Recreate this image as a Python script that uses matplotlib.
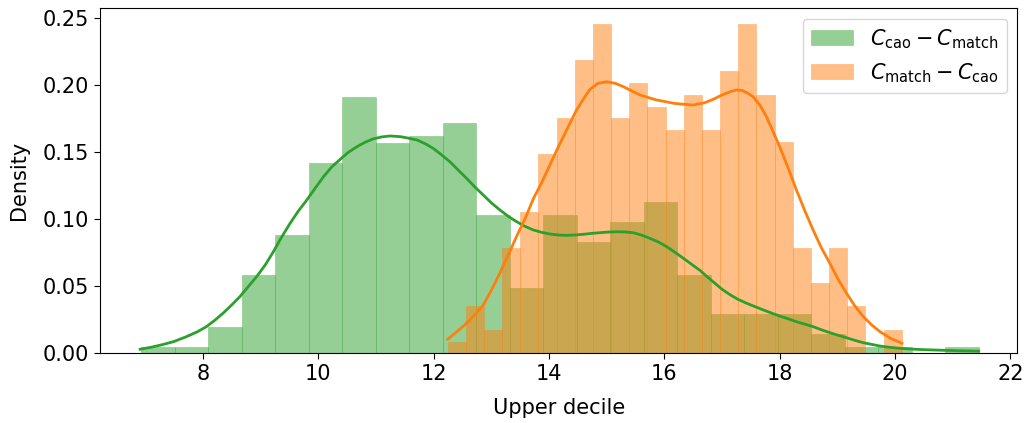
import numpy as np
import matplotlib
matplotlib.use("Agg")
import matplotlib.pyplot as plt

# ---- data ----
# Green: C_cao - C_match, 25 bins
green_start = 6.93
green_width = 0.581
green_density = [0.005, 0.005, 0.0199, 0.0584, 0.0883, 0.142, 0.191, 0.157, 0.162,
                 0.172, 0.103, 0.0488, 0.103, 0.0833, 0.098, 0.113, 0.0584, 0.029,
                 0.029, 0.029, 0.0144, 0.0045, 0.0045, 0.0, 0.0045]

# Orange: C_match - C_cao, 25 bins
orange_start = 12.243
orange_width = 0.3149
orange_density = [0.0085, 0.0356, 0.0174, 0.0784, 0.1055, 0.149, 0.1756, 0.219, 0.2458,
                  0.1756, 0.2017, 0.1838, 0.1667, 0.1928, 0.1667, 0.2107, 0.2458, 0.1928,
                  0.1577, 0.0784, 0.0525, 0.0784, 0.0355, 0.0, 0.0174]

# KDE curves
green_kde_x = [6.91, 7.1, 7.3, 7.49, 7.7, 7.9, 8.06, 8.2, 8.35, 8.5, 8.64, 8.78, 8.93,
               9.08, 9.22, 9.36, 9.51, 9.65, 9.80, 9.95, 10.09, 10.23, 10.38, 10.52,
               10.67, 10.81, 10.95, 11.1, 11.24, 11.42, 11.56, 11.71, 11.85, 11.99,
               12.14, 12.28, 12.42, 12.57, 12.71, 12.86, 13.0, 13.15, 13.3, 13.44,
               13.58, 13.73, 13.88, 14.02, 14.16, 14.31, 14.45, 14.59, 14.74, 14.88,
               15.03, 15.17, 15.31, 15.46, 15.6, 15.75, 15.9, 16.04, 16.18, 16.33,
               16.47, 16.62, 16.74, 16.87, 17.0, 17.14, 17.28, 17.43, 17.58, 17.72,
               17.86, 18.0, 18.15, 18.29, 18.44, 18.58, 18.72, 18.87, 19.01, 19.16,
               19.3, 19.45, 19.6, 19.74, 19.9, 20.09, 20.3, 20.5, 20.8, 21.1, 21.45]
green_kde_y = [0.0030, 0.0045, 0.0065, 0.0087, 0.0122, 0.0160, 0.0199, 0.0245, 0.0300,
               0.0362, 0.0423, 0.0495, 0.0572, 0.066, 0.0758, 0.0865, 0.097, 0.106,
               0.1144, 0.1235, 0.1318, 0.139, 0.1448, 0.150, 0.1542, 0.1575, 0.160,
               0.1615, 0.1622, 0.1617, 0.1606, 0.1592, 0.1565, 0.153, 0.148, 0.143,
               0.137, 0.1306, 0.1243, 0.1181, 0.1123, 0.1069, 0.102, 0.0982, 0.0948,
               0.092, 0.0902, 0.089, 0.0883, 0.088, 0.0883, 0.0888, 0.0895, 0.090,
               0.0905, 0.0907, 0.0906, 0.090, 0.0883, 0.0858, 0.083, 0.0796, 0.0755,
               0.0709, 0.0665, 0.0618, 0.0572, 0.0525, 0.0478, 0.0437, 0.0402, 0.0373,
               0.0347, 0.0323, 0.030, 0.0278, 0.0257, 0.0236, 0.0217, 0.0199, 0.0176,
               0.0154, 0.0135, 0.0116, 0.0097, 0.0079, 0.0066, 0.0054, 0.0045, 0.0037,
               0.0031, 0.0027, 0.0023, 0.0019, 0.0016]

orange_kde_x = [12.243, 12.4, 12.57, 12.72, 12.86, 13.0, 13.15, 13.3, 13.44, 13.58,
                13.73, 13.88, 14.02, 14.15, 14.31, 14.47, 14.6, 14.71, 14.85, 15.0,
                15.15, 15.29, 15.45, 15.58, 15.75, 15.87, 16.0, 16.16, 16.3, 16.5,
                16.7, 16.85, 17.0, 17.14, 17.25, 17.35, 17.45, 17.54, 17.66, 17.77,
                17.88, 18.0, 18.15, 18.29, 18.44, 18.58, 18.72, 18.87, 19.01, 19.16,
                19.3, 19.45, 19.6, 19.74, 19.93, 20.12]
orange_kde_y = [0.0105, 0.016, 0.0224, 0.029, 0.036, 0.047, 0.060, 0.074, 0.0875,
                0.100, 0.1155, 0.128, 0.141, 0.153, 0.167, 0.181, 0.190, 0.197, 0.2015,
                0.2027, 0.2015, 0.199, 0.1955, 0.1928, 0.1905, 0.189, 0.188, 0.1866,
                0.186, 0.1853, 0.187, 0.1896, 0.1928, 0.1952, 0.1965, 0.1962, 0.194,
                0.1915, 0.185, 0.1766, 0.166, 0.1542, 0.138, 0.1219, 0.106, 0.092,
                0.079, 0.0672, 0.0555, 0.0448, 0.0355, 0.0273, 0.021, 0.0161, 0.011,
                0.0075]

label_green = r"$C_{\mathrm{cao}} - C_{\mathrm{match}}$"
label_orange = r"$C_{\mathrm{match}} - C_{\mathrm{cao}}$"

GREEN = "#2ca02c"
ORANGE = "#ff7f0e"

plt.rcParams['font.family'] = ['DejaVu Sans']
plt.rcParams['font.size'] = 15
plt.rcParams['xtick.major.size'] = 4.5
plt.rcParams['ytick.major.size'] = 4.5

fig = plt.figure(figsize=(10.29, 4.23), dpi=100)
ax = fig.add_axes([0.0972, 0.1648, 0.9886 - 0.0972, 0.9804 - 0.1648])

g_left = green_start + green_width * np.arange(len(green_density))
o_left = orange_start + orange_width * np.arange(len(orange_density))

ax.bar(g_left, green_density, width=green_width, align="edge", color=GREEN,
       alpha=0.5, edgecolor=GREEN, linewidth=0.4, label=label_green)
ax.bar(o_left, orange_density, width=orange_width, align="edge", color=ORANGE,
       alpha=0.5, edgecolor=ORANGE, linewidth=0.4, label=label_orange)

ax.plot(green_kde_x, green_kde_y, color=GREEN, lw=2.0, solid_joinstyle="round")
ax.plot(orange_kde_x, orange_kde_y, color=ORANGE, lw=2.0, solid_joinstyle="round")

ax.set_xlim(6.214, 22.12)
ax.set_ylim(0, 0.2575)
ax.set_xticks([8, 10, 12, 14, 16, 18, 20, 22])
ax.set_yticks([0.0, 0.05, 0.10, 0.15, 0.20, 0.25])
ax.yaxis.set_major_formatter(matplotlib.ticker.FormatStrFormatter('%.2f'))
ax.set_xlabel("Upper decile", labelpad=10)
ax.set_ylabel("Density", labelpad=10)
ax.legend(loc="upper right")

fig.savefig("out.png", dpi=100)
